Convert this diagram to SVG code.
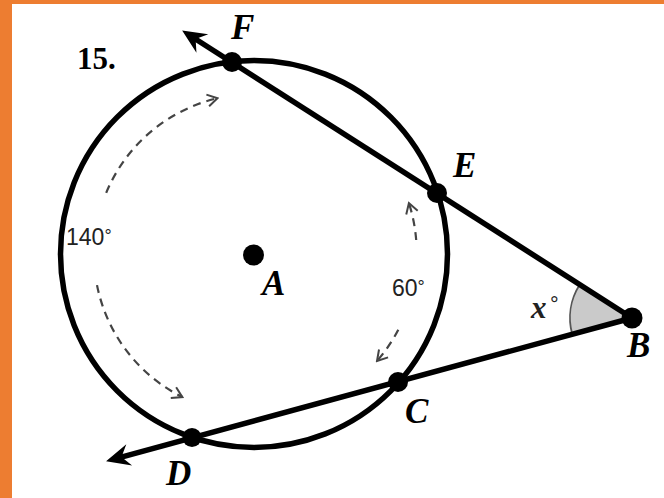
<svg xmlns="http://www.w3.org/2000/svg" width="664" height="498" viewBox="0 0 664 498">
  <defs>
    <style>
      .line { stroke: #000; stroke-width: 5.5; fill: none; }
      .dot { fill: #000; }
      .pt { font-family: "Liberation Serif", serif; font-weight: bold; font-style: italic; font-size: 35px; fill: #000; }
      .deg { font-family: "Liberation Sans", sans-serif; font-size: 23px; fill: #222; }
      .dash { stroke: #444; stroke-width: 2.2; fill: none; stroke-dasharray: 8 6; }
    </style>
    <marker id="bigArrow" markerUnits="userSpaceOnUse" viewBox="-12 -13 27 26" refX="0" refY="0" markerWidth="27" markerHeight="26" orient="auto">
      <path d="M13,0 L-11,-11 L-3,0 L-11,11 Z" fill="#000"/>
    </marker>
    <marker id="openArrow" markerUnits="userSpaceOnUse" viewBox="-12 -8 14 16" refX="0" refY="0" markerWidth="14" markerHeight="16" orient="auto">
      <path d="M-10,-6 L0,0 L-10,6" fill="none" stroke="#444" stroke-width="2" stroke-dasharray="none"/>
    </marker>
  </defs>

  <!-- orange border -->
  <rect x="0" y="0" width="664" height="498" fill="#fff"/>
  <rect x="0" y="0" width="12" height="498" fill="#ED7D31"/>
  <rect x="0" y="0" width="664" height="4" fill="#ED7D31"/>

  <text x="77" y="69" font-family="Liberation Serif, serif" font-weight="bold" font-size="31" fill="#000">15.</text>

  <g id="circle">
    <circle cx="254" cy="254" r="193.5" class="line"/>
  </g>

  <g id="angle">
    <path d="M632,318 L579.8,284.6 A62,62 0 0,0 572.2,334.3 Z" fill="#cacaca"/>
    <path d="M579.8,284.6 A62,62 0 0,0 572.2,334.3" fill="none" stroke="#555" stroke-width="1.8"/>
    <text x="531" y="318" font-family="Liberation Serif, serif" font-style="italic" font-weight="bold" font-size="31" fill="#222">x<tspan font-size="20" dy="-8" dx="3">°</tspan></text>
  </g>

  <g id="connectors">
    <line x1="632" y1="318" x2="193.1" y2="37.5" class="line" marker-end="url(#bigArrow)"/>
    <line x1="632" y1="318" x2="118.6" y2="457.8" class="line" marker-end="url(#bigArrow)"/>
    <path d="M106.2,192.8 A160,160 0 0,1 217.5,98.2" class="dash" marker-end="url(#openArrow)"/>
    <path d="M97,285.1 A160,160 0 0,0 182.4,397.1" class="dash" marker-end="url(#openArrow)"/>
    <path d="M416.2,240 A163,163 0 0,0 408.9,203.1" class="dash" stroke-dasharray="12 10" marker-end="url(#openArrow)"/>
    <path d="M398.3,329.8 A163,163 0 0,1 377,361" class="dash" stroke-dasharray="13 10" marker-end="url(#openArrow)"/>
  </g>

  <g id="arc-labels">
    <text x="66" y="245" class="deg">140<tspan font-size="18" dy="-3">°</tspan></text>
    <text x="392" y="296" class="deg">60<tspan font-size="18" dy="-3">°</tspan></text>
  </g>

  <g id="node-A">
    <circle cx="253.5" cy="255" r="10.5" class="dot"/>
    <text x="262" y="295" class="pt">A</text>
  </g>
  <g id="node-F">
    <circle cx="232" cy="62" r="10" class="dot"/>
    <text x="231" y="39" class="pt">F</text>
  </g>
  <g id="node-E">
    <circle cx="437" cy="193" r="10" class="dot"/>
    <text x="453" y="177" class="pt">E</text>
  </g>
  <g id="node-C">
    <circle cx="398" cy="382" r="10" class="dot"/>
    <text x="405" y="423" class="pt">C</text>
  </g>
  <g id="node-D">
    <circle cx="192" cy="437.5" r="9.5" class="dot"/>
    <text x="166" y="485" class="pt">D</text>
  </g>
  <g id="node-B">
    <circle cx="632" cy="318" r="10.5" class="dot"/>
    <text x="627" y="357" class="pt">B</text>
  </g>
</svg>
